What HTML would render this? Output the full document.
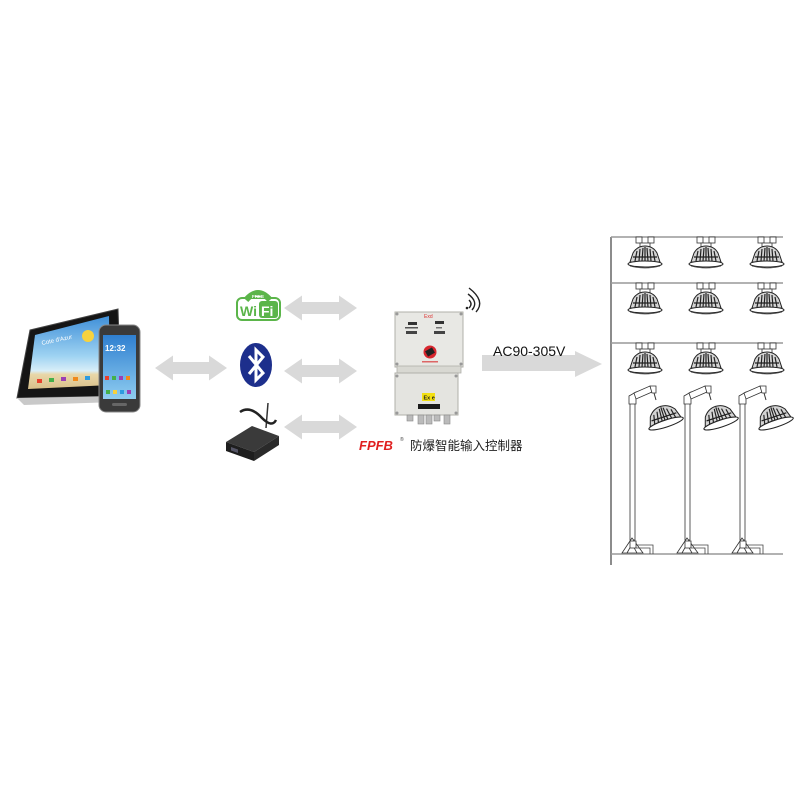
<!DOCTYPE html>
<html><head><meta charset="utf-8"><style>
html,body{margin:0;padding:0;background:#fff;}
svg{display:block;}
</style></head><body>
<svg width="800" height="800" viewBox="0 0 800 800" xmlns="http://www.w3.org/2000/svg">
<defs>
<linearGradient id="sky" x1="0" y1="0" x2="0" y2="1">
<stop offset="0" stop-color="#3f8fd8"/><stop offset="0.55" stop-color="#9fd3f2"/><stop offset="0.75" stop-color="#d8eef8"/><stop offset="0.8" stop-color="#e8d7a8"/><stop offset="1" stop-color="#d9c08a"/>
</linearGradient>
<linearGradient id="psky" x1="0" y1="0" x2="0" y2="1">
<stop offset="0" stop-color="#2f7fd0"/><stop offset="1" stop-color="#8fcdf0"/>
</linearGradient>
<g id="hl">
<rect x="-9" y="0" width="6" height="6" fill="#fff" stroke="#333" stroke-width="0.8"/>
<rect x="3" y="0" width="6" height="6" fill="#fff" stroke="#333" stroke-width="0.8"/>
<rect x="-5" y="6" width="10" height="4" fill="#fff" stroke="#333" stroke-width="0.8"/>
<path d="M-15,25 L-12,16 Q-8,9 0,9 Q8,9 12,16 L15,25 Z" fill="#d4d4d4" stroke="#222" stroke-width="1"/>
<path d="M-10,24 L-8,14 M-6,24 L-5,12 M-3,24 L-2,11 M0,24 L0,10 M3,24 L2,11 M6,24 L5,12 M10,24 L8,14 M-12,20 L12,20" stroke="#222" stroke-width="1.2"/>
<ellipse cx="0" cy="27" rx="17" ry="3" fill="#fff" stroke="#222" stroke-width="1.1"/>
<path d="M-15,29 Q0,33 15,29" fill="none" stroke="#444" stroke-width="0.8"/>
</g>
<g id="pl">
<rect x="0" y="402" width="5" height="138" fill="#fff" stroke="#333" stroke-width="0.8"/>
<path d="M-1,396 L6,392 L6,404 L-1,404 Z" fill="#fff" stroke="#333" stroke-width="0.8"/>
<path d="M4,393 L20,386 L22,392 L6,399 Z" fill="#fff" stroke="#333" stroke-width="0.8"/>
<path d="M20,386 L26,386 L26,393 L22,393 Z" fill="#fff" stroke="#333" stroke-width="0.8"/>
<line x1="24" y1="393" x2="26" y2="400" stroke="#333" stroke-width="1"/>
<g transform="translate(33,414) rotate(-18)">
<path d="M-16,8 L-13,-1 Q-8,-8 0,-8 Q8,-8 13,-1 L16,8 Z" fill="#d4d4d4" stroke="#222" stroke-width="1"/>
<path d="M-11,7 L-9,-2 M-7,7 L-5,-4 M-3,7 L-2,-6 M0,7 L0,-7 M3,7 L2,-6 M7,7 L5,-4 M11,7 L9,-2 M-13,3 L13,3" stroke="#222" stroke-width="1.2"/>
<ellipse cx="0" cy="10" rx="18" ry="3.5" fill="#fff" stroke="#222" stroke-width="1.1"/>
</g>
<path d="M-8,553 L2,538 L13,553 Z" fill="#fff" stroke="#333" stroke-width="0.8"/>
<path d="M-3,553 L2,544 L7,553" fill="none" stroke="#333" stroke-width="0.8"/>
<rect x="0" y="541" width="6" height="7" fill="#fff" stroke="#333" stroke-width="0.8"/>
<path d="M6,545 L23,545 L23,554 M6,548 L20,548 L20,554" fill="none" stroke="#444" stroke-width="0.8"/>
</g>
</defs>

<!-- Tablet -->
<polygon points="30,330 118,309 121,396 17,398" fill="#151515" stroke="#444" stroke-width="1"/>
<polygon points="17,398 121,396 117,402 24,405" fill="#c9c9c9"/>
<polygon points="35,335 109,316 110,385 28,389" fill="url(#sky)"/>
<circle cx="88" cy="336" r="6" fill="#f7d23e"/>
<text x="42" y="345" font-family="Liberation Sans, sans-serif" font-size="6" fill="#fff" transform="rotate(-12 42 345)">Cote d'Azur</text>
<rect x="37" y="379" width="5" height="4" fill="#e8412e"/>
<rect x="49" y="378" width="5" height="4" fill="#44b04a"/>
<rect x="61" y="377" width="5" height="4" fill="#9b3fb5"/>
<rect x="73" y="377" width="5" height="4" fill="#f08a1c"/>
<rect x="85" y="376" width="5" height="4" fill="#2e9ce0"/>
<!-- Phone -->
<rect x="99" y="325" width="41" height="87" rx="7" fill="#3a3a3a" stroke="#888" stroke-width="1"/>
<rect x="103" y="335" width="33" height="64" fill="url(#psky)"/>
<text x="105" y="351" font-family="Liberation Sans, sans-serif" font-size="8" fill="#fff" font-weight="bold">12:32</text>
<rect x="105" y="376" width="4" height="4" fill="#e8412e"/><rect x="112" y="376" width="4" height="4" fill="#44b04a"/><rect x="119" y="376" width="4" height="4" fill="#9b3fb5"/><rect x="126" y="376" width="4" height="4" fill="#f08a1c"/>
<rect x="106" y="390" width="4" height="4" fill="#44b04a"/><rect x="113" y="390" width="4" height="4" fill="#f7d23e"/><rect x="120" y="390" width="4" height="4" fill="#2e9ce0"/><rect x="127" y="390" width="4" height="4" fill="#9b3fb5"/>
<rect x="112" y="403" width="15" height="3" rx="1.5" fill="#666"/>

<!-- Arrows -->
<g fill="#d9d9d9">
<polygon points="155,368 173,355.5 173,362 209,362 209,355.5 227,368 209,380.5 209,374 173,374 173,380.5"/>
<polygon points="284,308 302,295.5 302,302 339,302 339,295.5 357,308 339,320.5 339,314 302,314 302,320.5"/>
<polygon points="284,371 302,358.5 302,365 339,365 339,358.5 357,371 339,383.5 339,377 302,377 302,383.5"/>
<polygon points="284,427 302,414.5 302,421 339,421 339,414.5 357,427 339,439.5 339,433 302,433 302,439.5"/>
<polygon points="482,355 575,355 575,351 602,364 575,377 575,371 482,371"/>
</g>

<!-- WiFi logo -->
<rect x="237" y="298" width="43" height="22" rx="5" fill="#fff" stroke="#5bb54a" stroke-width="2"/>
<path d="M246,300 Q258,286 270,300" fill="none" stroke="#5bb54a" stroke-width="6"/>
<text x="252" y="298" font-family="Liberation Sans, sans-serif" font-size="4.5" font-weight="bold" fill="#fff">FREE</text>
<text x="240" y="316" font-family="Liberation Sans, sans-serif" font-size="14" font-weight="bold" fill="#5bb54a">Wi</text>
<rect x="259" y="301" width="19" height="17" rx="3" fill="#5bb54a"/>
<text x="261" y="316" font-family="Liberation Sans, sans-serif" font-size="14" font-weight="bold" fill="#fff">Fi</text>

<!-- Bluetooth -->
<ellipse cx="256" cy="365" rx="16" ry="22" fill="#1d2f8c"/>
<path d="M249,356 L263,373 L256,380 L256,350 L263,357 L249,374" fill="none" stroke="#fff" stroke-width="3" stroke-linejoin="miter"/>

<!-- Router -->
<line x1="268" y1="403" x2="266" y2="428" stroke="#333" stroke-width="1.5"/>
<path d="M240,412 Q250,405 262,418 Q272,428 276,420" fill="none" stroke="#222" stroke-width="2.5"/>
<polygon points="226,442 252,426 279,436 254,452" fill="#3a3a3a"/>
<polygon points="226,442 254,452 254,461 226,451" fill="#1e1e1e"/>
<polygon points="254,452 279,436 279,445 254,461" fill="#2a2a2a"/>
<polygon points="231,447 238,449.5 238,453 231,450.5" fill="#556"/>

<!-- Controller -->
<rect x="395" y="312" width="68" height="55" fill="#e8e8e4" stroke="#b0b0aa" stroke-width="1"/>
<rect x="397" y="366" width="64" height="7" fill="#d8d8d2" stroke="#b0b0aa" stroke-width="0.8"/>
<rect x="395" y="373" width="63" height="42" fill="#e4e4e0" stroke="#b0b0aa" stroke-width="1"/>
<g fill="#999"><circle cx="397" cy="314" r="1.5"/><circle cx="461" cy="314" r="1.5"/><circle cx="397" cy="364" r="1.5"/><circle cx="461" cy="364" r="1.5"/><circle cx="397" cy="376" r="1.5"/><circle cx="456" cy="376" r="1.5"/><circle cx="397" cy="413" r="1.5"/><circle cx="456" cy="413" r="1.5"/></g>
<text x="424" y="318" font-family="Liberation Sans, sans-serif" font-size="5" fill="#d33">Exd</text>
<rect x="408" y="322" width="9" height="3" fill="#333"/>
<rect x="435" y="321" width="9" height="3" fill="#333"/>
<rect x="405" y="327" width="13" height="1.5" fill="#555"/>
<rect x="406" y="331" width="11" height="3" fill="#444"/>
<rect x="436" y="327" width="6" height="1.5" fill="#777"/>
<rect x="434" y="331" width="11" height="3" fill="#444"/>
<circle cx="430" cy="352" r="6.5" fill="#d8262e"/>
<rect x="426" y="349" width="8" height="6" fill="#222" transform="rotate(-30 430 352)"/>
<rect x="422" y="361" width="16" height="1.5" fill="#d66"/>
<rect x="422" y="393" width="13" height="8" fill="#f3e013"/>
<text x="423.5" y="399.5" font-family="Liberation Sans, sans-serif" font-size="5.5" font-weight="bold" fill="#222">Ex e</text>
<rect x="418" y="404" width="22" height="5" fill="#1a1a1a"/>
<g fill="#bbb" stroke="#888" stroke-width="0.6">
<rect x="407" y="415" width="6" height="6"/><rect x="418" y="415" width="6" height="9"/><rect x="426" y="415" width="6" height="9"/><rect x="434" y="415" width="6" height="6"/><rect x="444" y="415" width="6" height="9"/>
</g>
<g fill="none" stroke="#222" stroke-width="1.4">
<path d="M469,300 Q473,304 469,308"/>
<path d="M468,294 Q479,302 472,310"/>
<path d="M469,288 Q486,301 476,312"/>
</g>
<circle cx="467" cy="308" r="1.3" fill="#222"/>

<text x="493" y="356" font-family="Liberation Sans, sans-serif" font-size="14" fill="#111">AC90-305V</text>

<text x="359" y="450" font-family="Liberation Sans, sans-serif" font-size="13" font-weight="bold" font-style="italic" fill="#e02020">FPFB</text>
<text x="400" y="441" font-family="Liberation Sans, sans-serif" font-size="5" fill="#444">®</text>
<text x="410" y="450" font-family="Liberation Sans, 'Noto Sans CJK SC', sans-serif" font-size="12.5" fill="#222">防爆智能输入控制器</text>

<!-- Lighting frame -->
<line x1="611" y1="237" x2="611" y2="565" stroke="#8c8c8c" stroke-width="2"/>
<g stroke="#999" stroke-width="1.6">
<line x1="611" y1="237" x2="783" y2="237"/>
<line x1="611" y1="283" x2="783" y2="283"/>
<line x1="611" y1="343" x2="783" y2="343"/>
<line x1="611" y1="554" x2="783" y2="554"/>
</g>
<use href="#hl" x="645" y="237"/><use href="#hl" x="706" y="237"/><use href="#hl" x="767" y="237"/>
<use href="#hl" x="645" y="283"/><use href="#hl" x="706" y="283"/><use href="#hl" x="767" y="283"/>
<use href="#hl" x="645" y="343"/><use href="#hl" x="706" y="343"/><use href="#hl" x="767" y="343"/>
<use href="#pl" x="630" y="0"/><use href="#pl" x="685" y="0"/><use href="#pl" x="740" y="0"/>
</svg>
</body></html>
